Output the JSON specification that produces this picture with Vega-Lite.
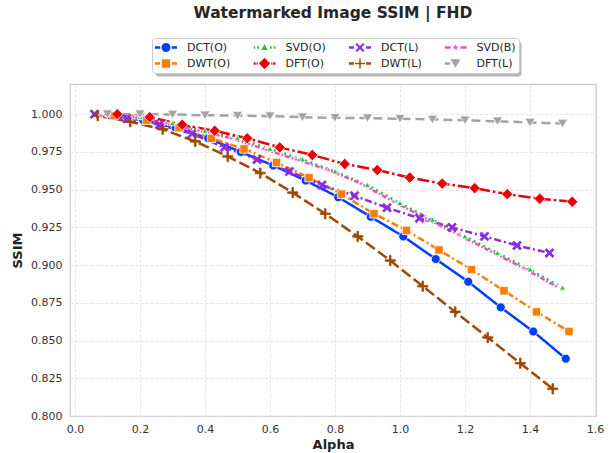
{
  "$schema": "https://vega.github.io/schema/vega-lite/v6.json",
  "width": 526,
  "height": 332,
  "autosize": {"type": "none"},
  "padding": {"left": 70, "top": 84, "right": 16, "bottom": 37},
  "background": "white",
  "title": {
    "text": "Watermarked Image SSIM | FHD",
    "font": "DejaVu Sans",
    "fontSize": 15.5,
    "fontWeight": "bold",
    "color": "#262626",
    "anchor": "middle",
    "frame": "group",
    "offset": 16
  },
  "data": {
    "values": [
      {"series": "DCT(O)", "alpha": 0.11, "ssim": 0.999},
      {"series": "DCT(O)", "alpha": 0.21, "ssim": 0.996},
      {"series": "DCT(O)", "alpha": 0.31, "ssim": 0.991},
      {"series": "DCT(O)", "alpha": 0.41, "ssim": 0.984},
      {"series": "DCT(O)", "alpha": 0.51, "ssim": 0.975},
      {"series": "DCT(O)", "alpha": 0.61, "ssim": 0.966},
      {"series": "DCT(O)", "alpha": 0.71, "ssim": 0.956},
      {"series": "DCT(O)", "alpha": 0.81, "ssim": 0.945},
      {"series": "DCT(O)", "alpha": 0.91, "ssim": 0.932},
      {"series": "DCT(O)", "alpha": 1.01, "ssim": 0.919},
      {"series": "DCT(O)", "alpha": 1.11, "ssim": 0.904},
      {"series": "DCT(O)", "alpha": 1.21, "ssim": 0.889},
      {"series": "DCT(O)", "alpha": 1.31, "ssim": 0.872},
      {"series": "DCT(O)", "alpha": 1.41, "ssim": 0.856},
      {"series": "DCT(O)", "alpha": 1.51, "ssim": 0.838},

      {"series": "DWT(O)", "alpha": 0.12, "ssim": 0.999},
      {"series": "DWT(O)", "alpha": 0.22, "ssim": 0.996},
      {"series": "DWT(O)", "alpha": 0.32, "ssim": 0.991},
      {"series": "DWT(O)", "alpha": 0.42, "ssim": 0.984},
      {"series": "DWT(O)", "alpha": 0.52, "ssim": 0.977},
      {"series": "DWT(O)", "alpha": 0.62, "ssim": 0.968},
      {"series": "DWT(O)", "alpha": 0.72, "ssim": 0.958},
      {"series": "DWT(O)", "alpha": 0.82, "ssim": 0.947},
      {"series": "DWT(O)", "alpha": 0.92, "ssim": 0.934},
      {"series": "DWT(O)", "alpha": 1.02, "ssim": 0.923},
      {"series": "DWT(O)", "alpha": 1.12, "ssim": 0.910},
      {"series": "DWT(O)", "alpha": 1.22, "ssim": 0.897},
      {"series": "DWT(O)", "alpha": 1.32, "ssim": 0.883},
      {"series": "DWT(O)", "alpha": 1.42, "ssim": 0.869},
      {"series": "DWT(O)", "alpha": 1.52, "ssim": 0.856},

      {"series": "SVD(O)", "alpha": 0.10, "ssim": 1.000},
      {"series": "SVD(O)", "alpha": 0.20, "ssim": 0.998},
      {"series": "SVD(O)", "alpha": 0.30, "ssim": 0.994},
      {"series": "SVD(O)", "alpha": 0.40, "ssim": 0.989},
      {"series": "SVD(O)", "alpha": 0.50, "ssim": 0.984},
      {"series": "SVD(O)", "alpha": 0.60, "ssim": 0.977},
      {"series": "SVD(O)", "alpha": 0.70, "ssim": 0.970},
      {"series": "SVD(O)", "alpha": 0.80, "ssim": 0.962},
      {"series": "SVD(O)", "alpha": 0.90, "ssim": 0.953},
      {"series": "SVD(O)", "alpha": 1.00, "ssim": 0.941},
      {"series": "SVD(O)", "alpha": 1.10, "ssim": 0.930},
      {"series": "SVD(O)", "alpha": 1.20, "ssim": 0.919},
      {"series": "SVD(O)", "alpha": 1.30, "ssim": 0.908},
      {"series": "SVD(O)", "alpha": 1.40, "ssim": 0.897},
      {"series": "SVD(O)", "alpha": 1.50, "ssim": 0.885},

      {"series": "DFT(O)", "alpha": 0.13, "ssim": 1.000},
      {"series": "DFT(O)", "alpha": 0.23, "ssim": 0.998},
      {"series": "DFT(O)", "alpha": 0.33, "ssim": 0.993},
      {"series": "DFT(O)", "alpha": 0.43, "ssim": 0.989},
      {"series": "DFT(O)", "alpha": 0.53, "ssim": 0.984},
      {"series": "DFT(O)", "alpha": 0.63, "ssim": 0.978},
      {"series": "DFT(O)", "alpha": 0.73, "ssim": 0.973},
      {"series": "DFT(O)", "alpha": 0.83, "ssim": 0.967},
      {"series": "DFT(O)", "alpha": 0.93, "ssim": 0.963},
      {"series": "DFT(O)", "alpha": 1.03, "ssim": 0.958},
      {"series": "DFT(O)", "alpha": 1.13, "ssim": 0.954},
      {"series": "DFT(O)", "alpha": 1.23, "ssim": 0.951},
      {"series": "DFT(O)", "alpha": 1.33, "ssim": 0.947},
      {"series": "DFT(O)", "alpha": 1.43, "ssim": 0.944},
      {"series": "DFT(O)", "alpha": 1.53, "ssim": 0.942},

      {"series": "DCT(L)", "alpha": 0.06, "ssim": 1.000},
      {"series": "DCT(L)", "alpha": 0.16, "ssim": 0.997},
      {"series": "DCT(L)", "alpha": 0.26, "ssim": 0.993},
      {"series": "DCT(L)", "alpha": 0.36, "ssim": 0.987},
      {"series": "DCT(L)", "alpha": 0.46, "ssim": 0.978},
      {"series": "DCT(L)", "alpha": 0.56, "ssim": 0.970},
      {"series": "DCT(L)", "alpha": 0.66, "ssim": 0.962},
      {"series": "DCT(L)", "alpha": 0.76, "ssim": 0.953},
      {"series": "DCT(L)", "alpha": 0.86, "ssim": 0.946},
      {"series": "DCT(L)", "alpha": 0.96, "ssim": 0.938},
      {"series": "DCT(L)", "alpha": 1.06, "ssim": 0.931},
      {"series": "DCT(L)", "alpha": 1.16, "ssim": 0.925},
      {"series": "DCT(L)", "alpha": 1.26, "ssim": 0.919},
      {"series": "DCT(L)", "alpha": 1.36, "ssim": 0.913},
      {"series": "DCT(L)", "alpha": 1.46, "ssim": 0.908},

      {"series": "DWT(L)", "alpha": 0.07, "ssim": 0.999},
      {"series": "DWT(L)", "alpha": 0.17, "ssim": 0.995},
      {"series": "DWT(L)", "alpha": 0.27, "ssim": 0.990},
      {"series": "DWT(L)", "alpha": 0.37, "ssim": 0.982},
      {"series": "DWT(L)", "alpha": 0.47, "ssim": 0.972},
      {"series": "DWT(L)", "alpha": 0.57, "ssim": 0.961},
      {"series": "DWT(L)", "alpha": 0.67, "ssim": 0.948},
      {"series": "DWT(L)", "alpha": 0.77, "ssim": 0.934},
      {"series": "DWT(L)", "alpha": 0.87, "ssim": 0.919},
      {"series": "DWT(L)", "alpha": 0.97, "ssim": 0.903},
      {"series": "DWT(L)", "alpha": 1.07, "ssim": 0.886},
      {"series": "DWT(L)", "alpha": 1.17, "ssim": 0.869},
      {"series": "DWT(L)", "alpha": 1.27, "ssim": 0.852},
      {"series": "DWT(L)", "alpha": 1.37, "ssim": 0.835},
      {"series": "DWT(L)", "alpha": 1.47, "ssim": 0.818},

      {"series": "SVD(B)", "alpha": 0.08, "ssim": 0.999},
      {"series": "SVD(B)", "alpha": 0.18, "ssim": 0.998},
      {"series": "SVD(B)", "alpha": 0.28, "ssim": 0.994},
      {"series": "SVD(B)", "alpha": 0.38, "ssim": 0.989},
      {"series": "SVD(B)", "alpha": 0.48, "ssim": 0.984},
      {"series": "SVD(B)", "alpha": 0.58, "ssim": 0.977},
      {"series": "SVD(B)", "alpha": 0.68, "ssim": 0.970},
      {"series": "SVD(B)", "alpha": 0.78, "ssim": 0.963},
      {"series": "SVD(B)", "alpha": 0.88, "ssim": 0.954},
      {"series": "SVD(B)", "alpha": 0.98, "ssim": 0.942},
      {"series": "SVD(B)", "alpha": 1.08, "ssim": 0.931},
      {"series": "SVD(B)", "alpha": 1.18, "ssim": 0.920},
      {"series": "SVD(B)", "alpha": 1.28, "ssim": 0.909},
      {"series": "SVD(B)", "alpha": 1.38, "ssim": 0.898},
      {"series": "SVD(B)", "alpha": 1.48, "ssim": 0.886},

      {"series": "DFT(L)", "alpha": 0.10, "ssim": 1.000},
      {"series": "DFT(L)", "alpha": 0.20, "ssim": 1.000},
      {"series": "DFT(L)", "alpha": 0.30, "ssim": 0.9998},
      {"series": "DFT(L)", "alpha": 0.40, "ssim": 0.9993},
      {"series": "DFT(L)", "alpha": 0.50, "ssim": 0.999},
      {"series": "DFT(L)", "alpha": 0.60, "ssim": 0.9987},
      {"series": "DFT(L)", "alpha": 0.70, "ssim": 0.998},
      {"series": "DFT(L)", "alpha": 0.80, "ssim": 0.9976},
      {"series": "DFT(L)", "alpha": 0.90, "ssim": 0.9974},
      {"series": "DFT(L)", "alpha": 1.00, "ssim": 0.997},
      {"series": "DFT(L)", "alpha": 1.10, "ssim": 0.9965},
      {"series": "DFT(L)", "alpha": 1.20, "ssim": 0.996},
      {"series": "DFT(L)", "alpha": 1.30, "ssim": 0.9953},
      {"series": "DFT(L)", "alpha": 1.40, "ssim": 0.9945},
      {"series": "DFT(L)", "alpha": 1.50, "ssim": 0.9938}
    ]
  },
  "encoding": {
    "x": {
      "field": "alpha",
      "type": "quantitative",
      "scale": {"domain": [-0.0154, 1.6031], "nice": false, "zero": false},
      "axis": {
        "title": "Alpha",
        "values": [0, 0.2, 0.4, 0.6, 0.8, 1.0, 1.2, 1.4, 1.6],
        "format": ".1f",
        "labelPadding": 7,
        "titlePadding": 4
      }
    },
    "y": {
      "field": "ssim",
      "type": "quantitative",
      "scale": {"domain": [0.8, 1.02], "nice": false, "zero": false},
      "axis": {
        "title": "SSIM",
        "values": [0.8, 0.825, 0.85, 0.875, 0.9, 0.925, 0.95, 0.975, 1.0],
        "format": ".3f",
        "labelPadding": 8,
        "titlePadding": 6
      }
    }
  },
  "layer": [
    {
      "mark": {"type": "line", "strokeWidth": 2.5, "strokeCap": "butt"},
      "encoding": {
        "color": {
          "field": "series",
          "type": "nominal",
          "scale": {
            "domain": ["DCT(O)", "DWT(O)", "SVD(O)", "DFT(O)", "DCT(L)", "DWT(L)", "SVD(B)", "DFT(L)"],
            "range": ["#023eff", "#ff7c00", "#1ac938", "#e8000b", "#8b2be2", "#9f4800", "#f14cc1", "#a3a3a3"]
          },
          "legend": null
        },
        "strokeDash": {
          "field": "series",
          "type": "nominal",
          "scale": {
            "domain": ["DCT(O)", "DWT(O)", "SVD(O)", "DFT(O)", "DCT(L)", "DWT(L)", "SVD(B)", "DFT(L)"],
            "range": [[1, 0], [7, 3, 2, 3], [2, 3.5], [12, 3, 2.5, 3], [7, 3, 2, 3], [11, 4], [5, 2, 1.5, 2], [9, 5]]
          },
          "legend": {
            "title": null,
            "orient": "none",
            "legendX": 85,
            "legendY": -43,
            "columns": 4,
            "gridAlign": "all",
            "columnPadding": 22.5,
            "rowPadding": 3,
            "padding": 3,
            "clipHeight": 13,
            "symbolType": "M-1,-0.178H1V0.178H-1Z",
            "symbolSize": 5213,
            "symbolStrokeWidth": 0,
            "symbolOpacity": 0,
            "labelExpr": "''",
            "labelOffset": 0,
            "labelFontSize": 11,
            "fillColor": "rgba(0,0,0,0.28)",
            "strokeColor": "rgba(0,0,0,0)",
            "cornerRadius": 3
          }
        }
      }
    },
    {
      "mark": {"type": "point", "filled": true, "opacity": 1, "size": 144, "strokeWidth": 0.8},
      "encoding": {
        "color": {
          "field": "series",
          "type": "nominal",
          "scale": {
            "domain": ["DCT(O)", "DWT(O)", "SVD(O)", "DFT(O)", "DCT(L)", "DWT(L)", "SVD(B)", "DFT(L)"],
            "range": ["#023eff", "#ff7c00", "#1ac938", "#e8000b", "#8b2be2", "#9f4800", "#f14cc1", "#a3a3a3"]
          },
          "legend": null
        },
        "stroke": {
          "field": "series",
          "type": "nominal",
          "scale": {
            "domain": ["DCT(O)", "DWT(O)", "SVD(O)", "DFT(O)", "DCT(L)", "DWT(L)", "SVD(B)", "DFT(L)"],
            "range": ["#ffffff", "#ffffff", "#ffffff", "#ffffff", "#8b2be2", "#9f4800", "#ffffff", "#ffffff"]
          },
          "legend": null
        },
        "shape": {
          "field": "series",
          "type": "nominal",
          "scale": {
            "domain": ["DCT(O)", "DWT(O)", "SVD(O)", "DFT(O)", "DCT(L)", "DWT(L)", "SVD(B)", "DFT(L)"],
            "range": [
              "M0.75,0A0.75,0.75 0 1,1 -0.75,0A0.75,0.75 0 1,1 0.75,0Z",
              "M-0.7,-0.7H0.7V0.7H-0.7Z",
              "M0,-0.48L0.5,0.4L-0.5,0.4Z",
              "M0,-0.95L0.95,0L0,0.95L-0.95,0Z",
              "M-0.75,-0.5L-0.5,-0.75L0,-0.25L0.5,-0.75L0.75,-0.5L0.25,0L0.75,0.5L0.5,0.75L0,0.25L-0.5,0.75L-0.75,0.5L-0.25,0Z",
              "M-0.85,-0.13H0.85V0.13H-0.85Z M-0.13,-0.85H0.13V0.85H-0.13Z",
              "M0,-0.5L0.118,-0.162L0.476,-0.155L0.19,0.062L0.294,0.405L0,0.2L-0.294,0.405L-0.19,0.062L-0.476,-0.155L-0.118,-0.162Z",
              "M-0.85,-0.72L0.85,-0.72L0,0.72Z"
            ]
          },
          "legend": null
        }
      }
    },
    {
      "mark": {"type": "point", "filled": true, "opacity": 0},
      "encoding": {
        "color": {
          "field": "series",
          "type": "nominal",
          "scale": {
            "domain": ["DCT(O)", "DWT(O)", "SVD(O)", "DFT(O)", "DCT(L)", "DWT(L)", "SVD(B)", "DFT(L)"],
            "range": ["#023eff", "#ff7c00", "#1ac938", "#e8000b", "#8b2be2", "#9f4800", "#f14cc1", "#a3a3a3"]
          },
          "legend": {
            "title": null,
            "orient": "none",
            "legendX": 82,
            "legendY": -46,
            "columns": 4,
            "gridAlign": "each",
            "columnPadding": 22.5,
            "rowPadding": 3,
            "padding": 3,
            "clipHeight": 13,
            "symbolSize": 484,
            "symbolStrokeWidth": 0,
            "symbolOpacity": 1,
            "labelFont": "DejaVu Sans",
            "labelFontSize": 11,
            "labelColor": "#262626",
            "labelOffset": 10,
            "fillColor": "#ffffff",
            "strokeColor": "#cccccc",
            "cornerRadius": 3
          }
        },
        "shape": {
          "field": "series",
          "type": "nominal",
          "scale": {
            "domain": ["DCT(O)", "DWT(O)", "SVD(O)", "DFT(O)", "DCT(L)", "DWT(L)", "SVD(B)", "DFT(L)"],
            "range": [
              "M-1,-0.11H-0.52V0.11H-1Z M0.52,-0.11H1V0.11H0.52Z M0.41,0A0.41,0.41 0 1,1 -0.41,0A0.41,0.41 0 1,1 0.41,0Z",
              "M-1,-0.11H-0.55V0.11H-1Z M0.55,-0.11H1V0.11H0.55Z M-0.38,-0.38H0.38V0.38H-0.38Z",
              "M-1,-0.11H-0.84V0.11H-1Z M-0.66,-0.11H-0.5V0.11H-0.66Z M0.5,-0.11H0.66V0.11H0.5Z M0.84,-0.11H1V0.11H0.84Z M0,-0.3L0.3,0.22L-0.3,0.22Z",
              "M-1,-0.11H-0.8V0.11H-1Z M-0.72,-0.11H-0.62V0.11H-0.72Z M0.62,-0.11H0.72V0.11H0.62Z M0.8,-0.11H1V0.11H0.8Z M0,-0.52L0.52,0L0,0.52L-0.52,0Z",
              "M-1,-0.11H-0.55V0.11H-1Z M0.55,-0.11H1V0.11H0.55Z M-0.41,-0.27L-0.27,-0.41L0,-0.14L0.27,-0.41L0.41,-0.27L0.14,0L0.41,0.27L0.27,0.41L0,0.14L-0.27,0.41L-0.41,0.27L-0.14,0Z",
              "M-1,-0.11H-0.55V0.11H-1Z M0.55,-0.11H1V0.11H0.55Z M-0.46,-0.07H0.46V0.07H-0.46Z M-0.07,-0.46H0.07V0.46H-0.07Z",
              "M-1,-0.11H-0.45V0.11H-1Z M0.45,-0.11H1V0.11H0.45Z M0,-0.3L0.071,-0.097L0.285,-0.093L0.114,0.037L0.176,0.243L0,0.12L-0.176,0.243L-0.114,0.037L-0.285,-0.093L-0.071,-0.097Z",
              "M-1,-0.11H-0.5V0.11H-1Z M-0.46,-0.39L0.46,-0.39L0,0.39Z"
            ]
          },
          "legend": {
            "title": null,
            "orient": "none",
            "legendX": 82,
            "legendY": -46,
            "columns": 4,
            "gridAlign": "each",
            "columnPadding": 22.5,
            "rowPadding": 3,
            "padding": 3,
            "clipHeight": 13,
            "symbolSize": 484,
            "symbolStrokeWidth": 0,
            "symbolOpacity": 1,
            "labelFont": "DejaVu Sans",
            "labelFontSize": 11,
            "labelColor": "#262626",
            "labelOffset": 10,
            "fillColor": "#ffffff",
            "strokeColor": "#cccccc",
            "cornerRadius": 3
          }
        }
      }
    }
  ],
  "resolve": {"scale": {"color": "independent", "shape": "independent"}},
  "config": {
    "font": "DejaVu Sans",
    "view": {"stroke": "#cccccc", "strokeWidth": 1.2},
    "axis": {
      "ticks": false,
      "domain": false,
      "grid": true,
      "gridColor": "#dddddd",
      "gridDash": [3, 2],
      "gridWidth": 0.8,
      "labelFont": "DejaVu Sans",
      "labelFontSize": 11,
      "labelColor": "#333333",
      "labelFlush": false,
      "titleFont": "DejaVu Sans",
      "titleFontSize": 13,
      "titleFontWeight": "bold",
      "titleColor": "#222222"
    }
  }
}
